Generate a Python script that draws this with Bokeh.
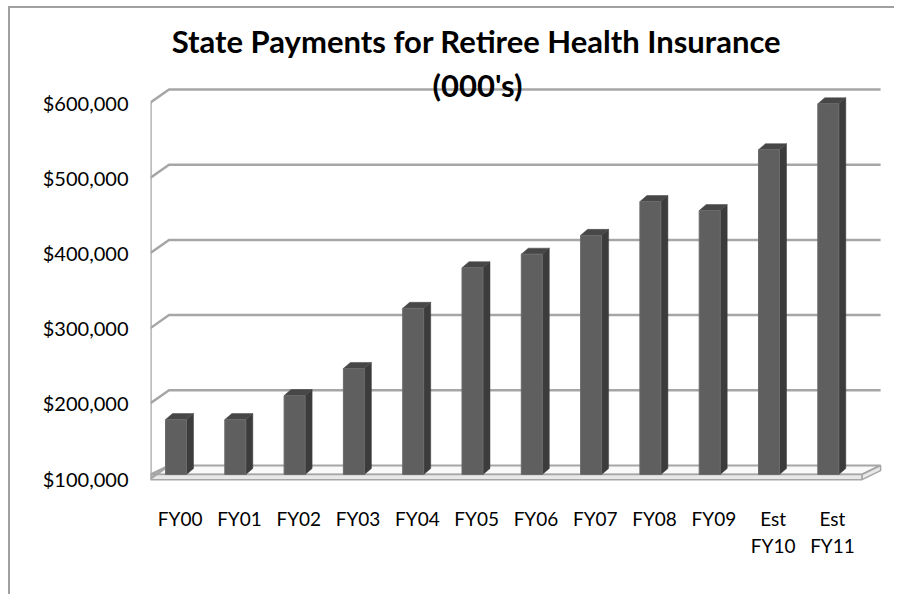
from bokeh.plotting import figure
from bokeh.models import Range1d, FixedTicker, NumeralTickFormatter
from bokeh.core.properties import value
from bokeh.embed import file_html
from bokeh.resources import INLINE

# ---- data ----
title_line1 = "State Payments for Retiree Health Insurance"
title_line2 = "(000's)"
categories = ["FY00", "FY01", "FY02", "FY03", "FY04", "FY05", "FY06",
              "FY07", "FY08", "FY09", "Est\nFY10", "Est\nFY11"]
payments = [173000, 173000, 205000, 241000, 321000, 375000, 393000,
            418000, 463000, 451000, 532000, 593000]
value_ticks = [100000, 200000, 300000, 400000, 500000, 600000]

# ---- geometry (pixels -> data units) ----
PX_X = 59.3            # px per category slot
PX_Y = 75.2 / 100000   # px per value unit
n = len(categories)
base = value_ticks[0]
wdx = 18.5 / PX_X      # 3-D wall depth (x)
wdy = 13 / PX_Y        # 3-D wall depth (y)
b_off = 15 / PX_X      # bar left offset in slot
b_w = 21 / PX_X        # bar width
b_dx = 7 / PX_X        # bar depth x
b_dy = 6 / PX_Y        # bar depth y
b_lift = 4 / PX_Y      # bar base above front floor edge

FIG_W, FIG_H = 886, 588
ORG_X, ORG_Y = 10, 8   # page position of canvas origin
LEFT = 150 - ORG_X
x_end = (FIG_W - LEFT) / PX_X
y_start = base - (ORG_Y + FIG_H - 478) / PX_Y
y_end = base + (478 - ORG_Y) / PX_Y

p = figure(width=FIG_W, height=FIG_H, output_backend="svg", toolbar_location=None,
           x_range=Range1d(0, x_end), y_range=Range1d(y_start, y_end),
           x_axis_location=None, min_border_left=LEFT, min_border_right=0,
           min_border_top=0, min_border_bottom=0)
p.styles = {"border-left": "2px solid #a0a0a0", "border-top": "2px solid #a0a0a0",
            "margin-left": "8px", "margin-top": "6px"}
p.xgrid.visible = False
p.ygrid.visible = False
p.outline_line_color = None
p.background_fill_color = "white"
p.border_fill_color = "white"

ax = p.yaxis[0]
ax.ticker = FixedTicker(ticks=value_ticks)
ax.formatter = NumeralTickFormatter(format="$0,0")
ax.axis_line_color = None
ax.major_tick_line_color = None
ax.minor_tick_line_color = None
ax.major_tick_out = 0
ax.major_tick_in = 0
ax.major_label_standoff = 22
ax.major_label_text_font = "Lato"
ax.major_label_text_font_size = "20px"
ax.major_label_text_color = "black"

grid_col = "#a6a6a6"

# floor plate
fl_top = base + b_lift
fl_bot = base - b_lift * 0.3
p.patch([0, n, n + wdx, wdx], [fl_top, fl_top, base + wdy, base + wdy],
        fill_color="#f9f9f9", line_color=grid_col, line_width=2)
p.quad(left=[0], right=[n], bottom=[fl_bot], top=[fl_top],
       fill_color="#e8e8e8", line_color=grid_col, line_width=1.5)
p.patch([n, n, n + wdx, n + wdx], [fl_bot, fl_top, base + wdy, base + wdy - (fl_top - fl_bot)],
        fill_color="#e8e8e8", line_color=grid_col, line_width=1.5)

# gridlines (left wall diagonal + back wall)
gx, gy = [], []
for v in value_ticks[1:]:
    gx.append([0, wdx, n + wdx])
    gy.append([v, v + wdy, v + wdy])
gx.append([0, wdx])
gy.append([base, base + wdy])
p.multi_line(gx, gy, line_color=grid_col, line_width=2.5)
# left wall front edge
p.segment(x0=[0], y0=[fl_bot], x1=[0], y1=[value_ticks[-1]], line_color=grid_col, line_width=2.5)

# bars (3-D look)
lefts = [i + b_off for i in range(n)]
rights = [l + b_w for l in lefts]
tops = [v + b_lift for v in payments]
bottoms = [base + b_lift] * n
side_xs = [[r, r + b_dx, r + b_dx, r] for r in rights]
side_ys = [[b, b + b_dy, t + b_dy, t] for b, t in zip(bottoms, tops)]
top_xs = [[l, l + b_dx, r + b_dx, r] for l, r in zip(lefts, rights)]
top_ys = [[t, t + b_dy, t + b_dy, t] for t in tops]
p.patches(side_xs, side_ys, fill_color="#3c3c3c", line_color="#3c3c3c", line_width=0.5)
p.patches(top_xs, top_ys, fill_color="#474747", line_color="#474747", line_width=0.5)
p.quad(left=lefts, right=rights, bottom=bottoms, top=tops,
       fill_color="#5f5f5f", line_color="#6a6a6a", line_width=1)

# category labels
lab_y = base - (506 - 478) / PX_Y
p.text(x=[i + 0.5 for i in range(n)], y=[lab_y] * n, text=categories,
       text_font=value("Lato"), text_font_size="19px", text_color="black",
       text_align="center", text_baseline="top", text_line_height=1.2)

# title
p.text(x=[(476 - 150) / PX_X], y=[base + (478 - 40) / PX_Y], text=[title_line1],
       text_font=value("Lato"), text_font_style="bold", text_font_size="31px",
       text_color="black", text_align="center", text_baseline="middle")
p.text(x=[(477 - 150) / PX_X], y=[base + (478 - 84) / PX_Y], text=[title_line2],
       text_font=value("Lato"), text_font_style="bold", text_font_size="31px",
       text_color="black", text_align="center", text_baseline="middle")

open("out.html", "w").write(file_html(p, INLINE))
